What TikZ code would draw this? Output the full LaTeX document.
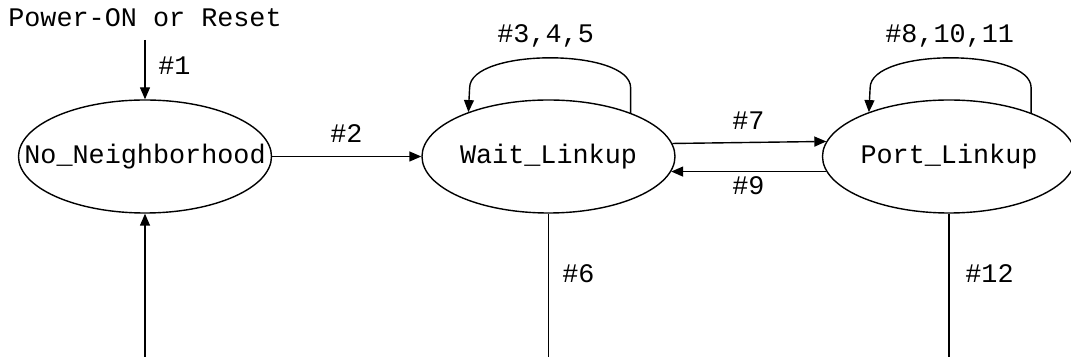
\documentclass[tikz,border=0pt]{standalone}
\usepackage{fontspec}
\setmainfont{Liberation Mono}
\usetikzlibrary{arrows.meta,shapes.geometric}
\begin{document}
\begin{tikzpicture}[x=0.5pt,y=-0.5pt,
  state/.style={draw,ellipse,line width=0.7pt,minimum width=126.5pt,minimum height=56.5pt,inner xsep=-40pt,inner ysep=0pt},
  lbl/.style={inner sep=0pt,anchor=base west},
  arr/.style={-{Triangle[length=6pt,width=5pt]},line width=0.7pt},
  ln/.style={line width=0.7pt},
  every node/.style={font=\fontsize{13.4pt}{16pt}\selectfont}]
\useasboundingbox (0,0) rectangle (1071,357);
\node[state] (N) at (145,156.5) {No\_Neighborhood};
\node[state] (W) at (548.5,156.5) {Wait\_Linkup};
\node[state] (P) at (949,156.5) {Port\_Linkup};
\node[inner sep=0pt,anchor=base] (pwr) at (145,27) {Power-ON or Reset};
\coordinate (c1) at (145,40);
\coordinate (cb) at (145,357);
\coordinate (wb) at (548.5,357);
\coordinate (pb) at (949,357);
\draw[arr] (c1) -- (N.north);
\draw[arr] (cb) -- (N.south);
\draw[arr] (N.east) -- (W.west);
\draw[ln] (W.south) -- (wb);
\draw[ln] (P.south) -- (pb);
\draw[arr] (W.6.3) -- (P.173.7);
\draw[arr] (P.187.8) -- (W.-7.8);
\draw[arr] (W.28.4) -- ++(0,-25) .. controls +(0,-40) and +(0,-40) .. ++(-161,0) -- (W.151.6);
\draw[arr] (P.28.4) -- ++(0,-25) .. controls +(0,-40) and +(0,-40) .. ++(-161,0) -- (P.151.6);
\node[lbl] (l1) at (158,75) {\#1};
\node[lbl] (l2) at (330,143) {\#2};
\node[lbl] (l345) at (497,43) {\#3,4,5};
\node[lbl] (l7) at (732,130) {\#7};
\node[lbl] (l9) at (732,195) {\#9};
\node[lbl] (l81011) at (885,43) {\#8,10,11};
\node[lbl] (l6) at (562,283) {\#6};
\node[lbl] (l12) at (965,283) {\#12};
\end{tikzpicture}
\end{document}
